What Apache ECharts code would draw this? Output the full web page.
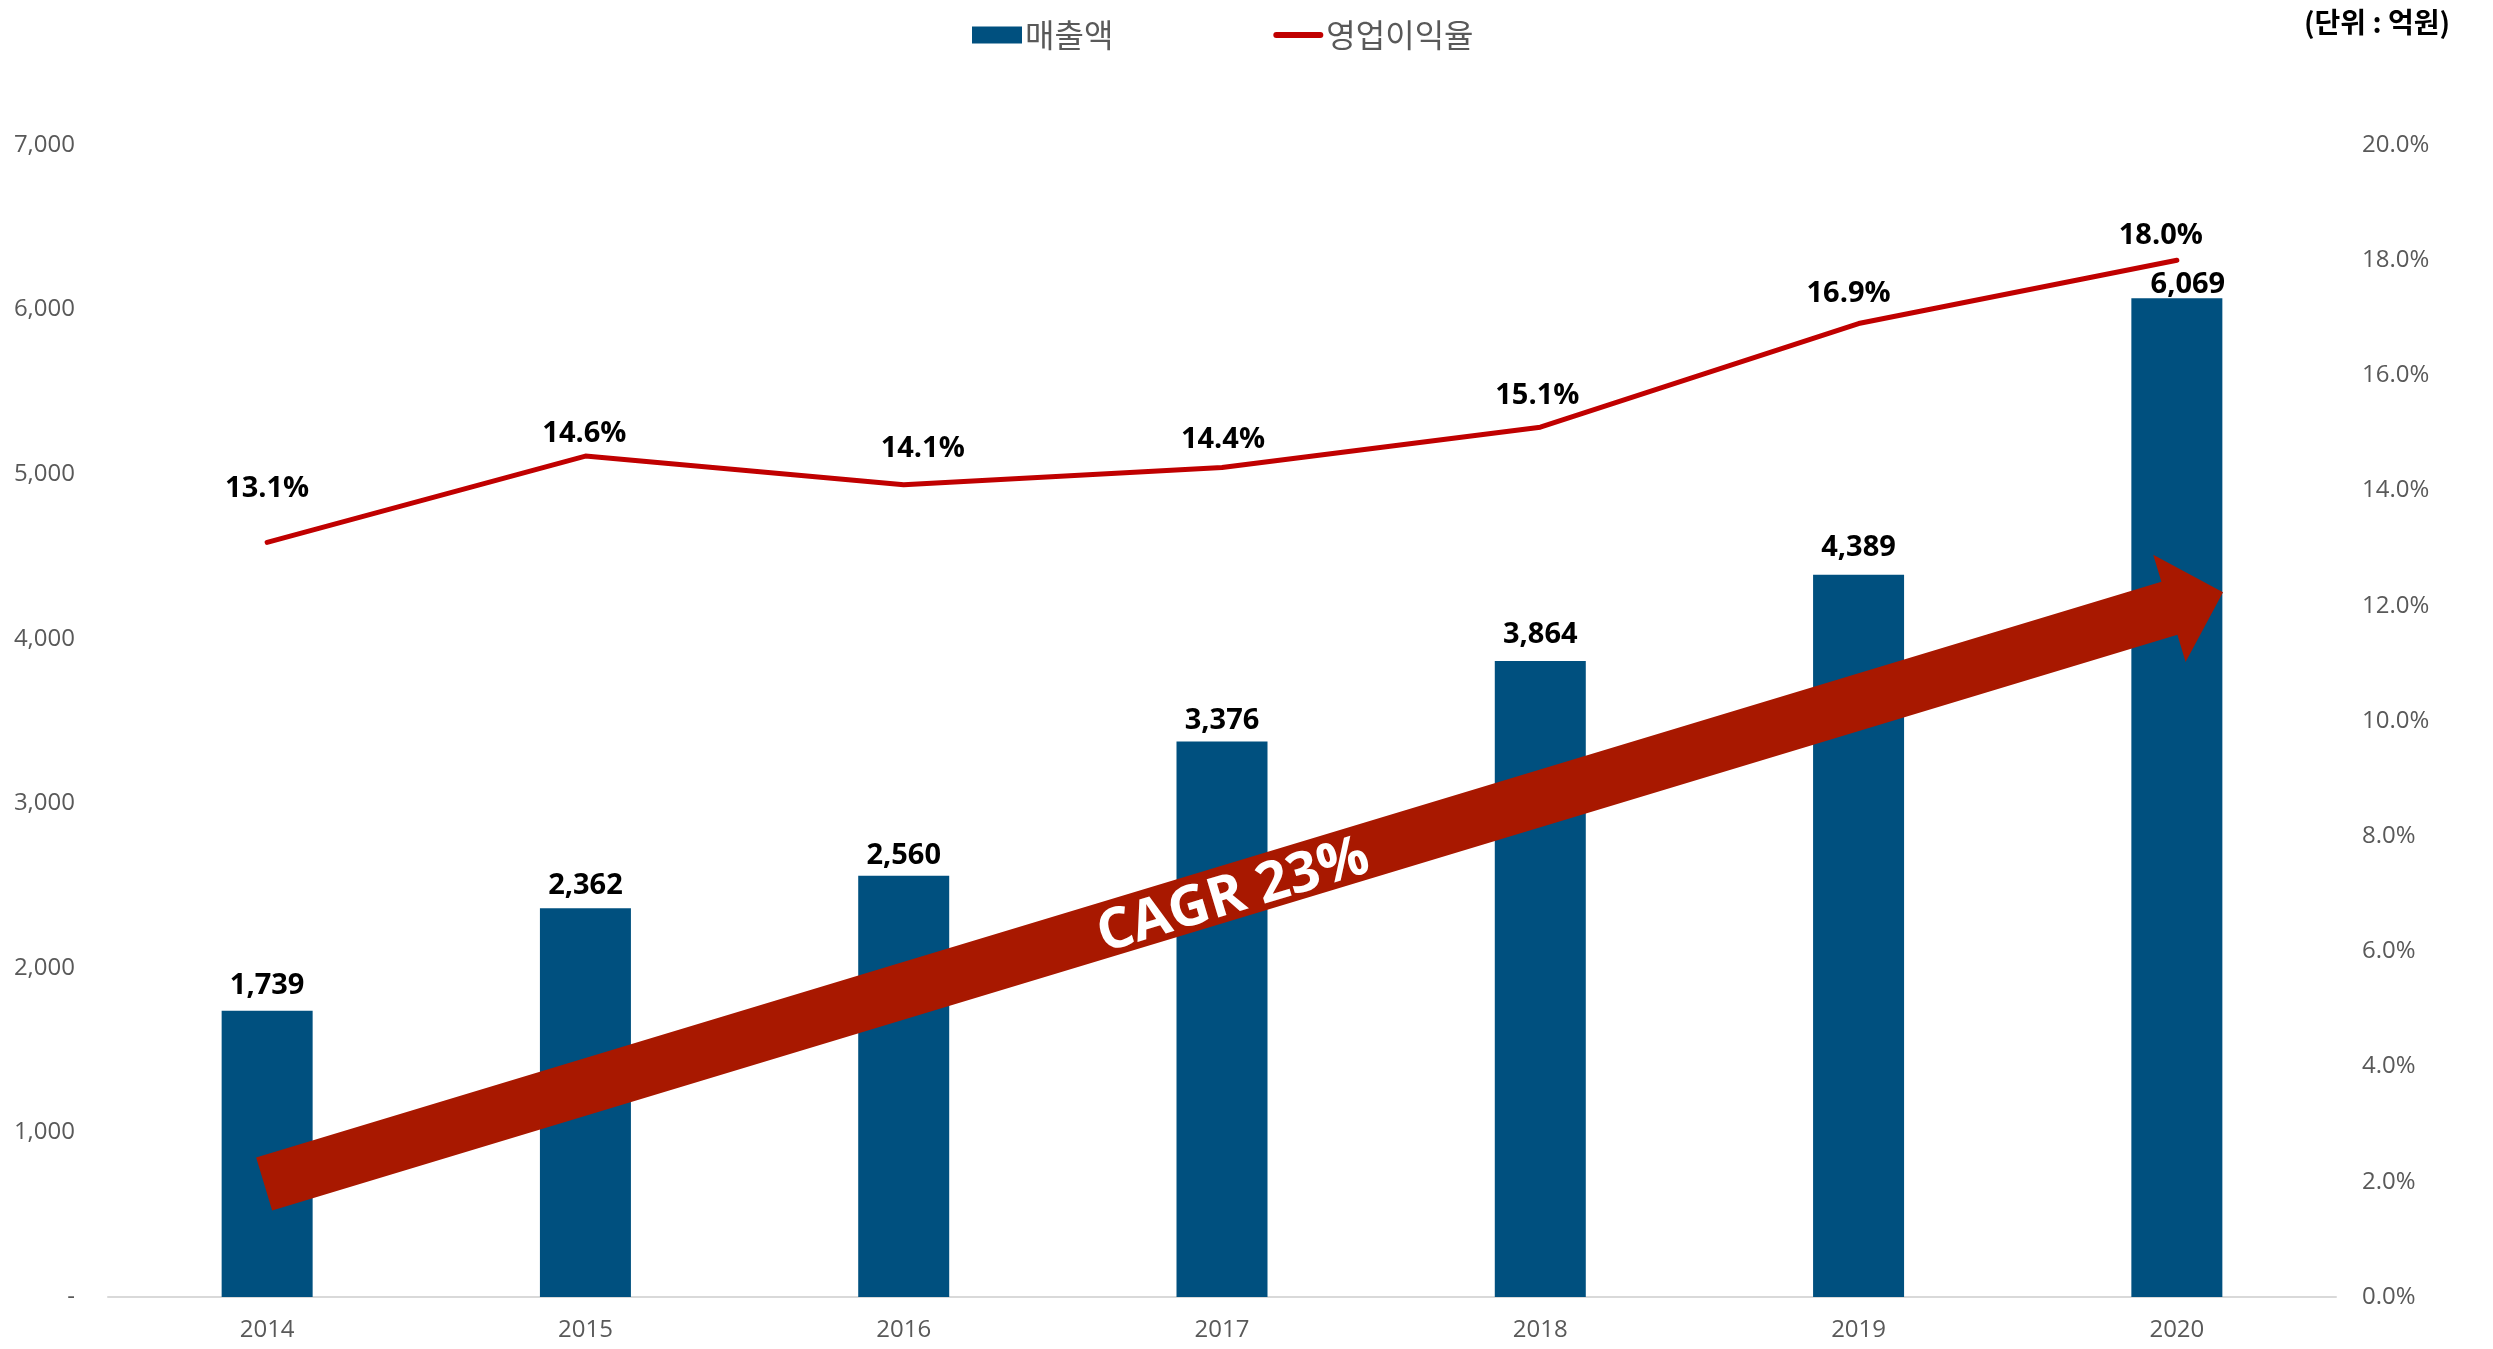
<!DOCTYPE html>
<html>
<head>
<meta charset="utf-8">
<script src="https://cdn.jsdelivr.net/npm/echarts@6/dist/echarts.min.js"></script>
<style>
  html, body { margin: 0; padding: 0; background: #fff; }
  #chart { width: 2493px; height: 1349px; }
</style>
</head>
<body>
<div id="chart"></div>
<script>
// données
const years = ['2014', '2015', '2016', '2017', '2018', '2019', '2020'];
const sales = [1739, 2362, 2560, 3376, 3864, 4389, 6069];        // 매출액 (억원)
const margin = [13.1, 14.6, 14.1, 14.4, 15.1, 16.9, 18.0];        // 영업이익율 (%)
const leftTicks = { min: 0, max: 7000, interval: 1000 };
const rightTicks = { min: 0, max: 20, interval: 2 };
const cagrText = 'CAGR 23%';

// petits décalages d'étiquettes (pixels)
const marginLabelNudge = [[0, -25], [-1, 6], [19, -8], [1, 1], [-3, -3], [-10, -1], [-16, 4]];
const salesLabelNudge = [[0, 0], [0, 3], [0, 6], [0, 5], [0, -1], [0, -1], [11, 12]];

const FONT = '"Open Sans", "Noto Sans CJK KR", sans-serif';
const KFONT = '"Noto Sans CJK KR", "Open Sans", sans-serif';
const GREY = '#595959';

const chart = echarts.init(document.getElementById('chart'));

chart.setOption({
  animation: false,
  backgroundColor: '#fff',
  title: {
    text: '(단위 : 억원)',
    right: 38,
    top: 3,
    textStyle: { fontFamily: KFONT, fontWeight: 'bold', fontSize: 28, color: '#000' }
  },
  legend: {
    left: 967,
    top: 14,
    itemGap: 160,
    itemWidth: 50,
    itemHeight: 17,
    textStyle: { fontFamily: KFONT, fontSize: 32, color: GREY, padding: [0, 0, 0, -2] },
    data: [
      { name: '매출액', icon: 'rect' },
      { name: '영업이익율', icon: 'path://M3,0 L47,0 A3,3 0 0 1 47,6 L3,6 A3,3 0 0 1 3,0 Z' }
    ]
  },
  grid: { left: 108, right: 157, top: 145, bottom: 52, containLabel: false },
  xAxis: {
    type: 'category',
    data: years,
    axisTick: { show: false },
    axisLine: { lineStyle: { color: '#d9d9d9', width: 2 } },
    axisLabel: { color: GREY, fontFamily: FONT, fontSize: 24, margin: 21 }
  },
  yAxis: [
    {
      type: 'value',
      min: leftTicks.min, max: leftTicks.max, interval: leftTicks.interval,
      splitLine: { show: false },
      axisLine: { show: false },
      axisTick: { show: false },
      axisLabel: {
        color: GREY, fontFamily: FONT, fontSize: 24, margin: 33,
        formatter: v => v === 0 ? '-' : v.toLocaleString('en-US')
      }
    },
    {
      type: 'value',
      min: rightTicks.min, max: rightTicks.max, interval: rightTicks.interval,
      splitLine: { show: false },
      axisLine: { show: false },
      axisTick: { show: false },
      axisLabel: {
        color: GREY, fontFamily: FONT, fontSize: 24, margin: 26,
        formatter: v => v.toFixed(1) + '%'
      }
    }
  ],
  series: [
    {
      name: '매출액',
      type: 'bar',
      barWidth: 91,
      itemStyle: { color: '#00507F' },
      data: sales.map((v, i) => ({
        value: v,
        label: { offset: salesLabelNudge[i] }
      })),
      label: {
        show: true,
        position: 'top',
        distance: 11,
        fontFamily: FONT,
        fontWeight: 'bold',
        fontSize: 29,
        color: '#000',
        formatter: p => p.value.toLocaleString('en-US')
      },
      z: 2
    },
    {
      name: '영업이익율',
      type: 'line',
      yAxisIndex: 1,
      symbol: 'circle',
      symbolSize: 0.01,
      showSymbol: true,
      lineStyle: { color: '#C00000', width: 5, cap: 'round' },
      itemStyle: { color: '#C00000' },
      data: margin.map((v, i) => ({
        value: v,
        label: { offset: marginLabelNudge[i] }
      })),
      label: {
        show: true,
        position: 'top',
        distance: 14,
        fontFamily: FONT,
        fontWeight: 'bold',
        fontSize: 29,
        color: '#000',
        formatter: p => p.value.toFixed(1) + '%'
      },
      z: 3
    }
  ]
});

// flèche CAGR, placée à partir des axes
function drawArrow() {
  const pA = chart.convertToPixel({ xAxisIndex: 0, yAxisIndex: 0 }, [years[0], 687]);
  const pB = chart.convertToPixel({ xAxisIndex: 0, yAxisIndex: 0 }, [years[6], 4283]);
  const band = (pB[0] - pA[0]) / (years.length - 1);
  const tail = [pA[0] - 3, pA[1]];
  const tip = [pB[0] + band * 0.145, pB[1]];
  const dx = tip[0] - tail[0], dy = tip[1] - tail[1];
  const L = Math.sqrt(dx * dx + dy * dy);
  const u = [dx / L, dy / L];
  const n = [-u[1], u[0]];
  const h = 27.7, H = 56, headLen = 56;
  const base = [tip[0] - u[0] * headLen, tip[1] - u[1] * headLen];
  const pt = (p, k) => [p[0] + n[0] * k, p[1] + n[1] * k];
  const points = [
    pt(tail, h), pt(base, h), pt(base, H), tip, pt(base, -H), pt(base, -h), pt(tail, -h)
  ];
  const t = 0.494;
  const mid = [tail[0] + dx * t + n[0] * 5, tail[1] + dy * t + n[1] * 5];
  chart.setOption({
    graphic: [
      {
        type: 'polygon',
        z: 10,
        shape: { points: points },
        style: { fill: '#A81800' }
      },
      {
        type: 'text',
        z: 11,
        x: mid[0],
        y: mid[1],
        rotation: -Math.atan2(dy, dx),
        style: {
          text: cagrText,
          fill: '#fff',
          font: 'bold 56px ' + FONT,
          align: 'center',
          verticalAlign: 'middle'
        }
      }
    ]
  });
}
drawArrow();
</script>
</body>
</html>
